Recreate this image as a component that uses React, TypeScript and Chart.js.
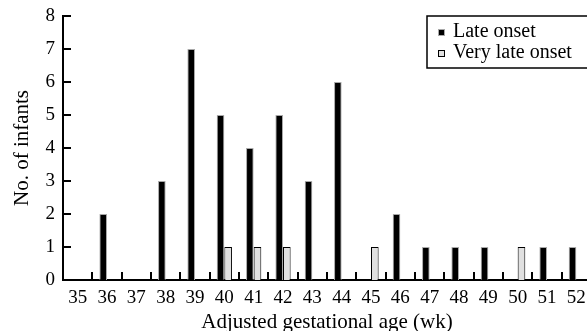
import React, { useEffect, useRef } from "react";
import { Chart, registerables } from "chart.js";

Chart.register(...registerables);

const categories = ["35", "36", "37", "38", "39", "40", "41", "42", "43", "44", "45", "46", "47", "48", "49", "50", "51", "52"];
const lateOnset = [0, 2, 0, 3, 7, 5, 4, 5, 3, 6, 0, 2, 1, 1, 1, 0, 1, 1];
const veryLateOnset = [0, 0, 0, 0, 0, 1, 1, 1, 0, 0, 1, 0, 0, 0, 0, 1, 0, 0];
const yTicks = [0, 1, 2, 3, 4, 5, 6, 7, 8];
const seriesLabels = ["Late onset", "Very late onset"];

const FONT = "'Liberation Serif', 'Times New Roman', serif";

const inwardTicks = {
  id: "inwardTicks",
  afterDraw(chart: any) {
    const { ctx, chartArea, scales } = chart;
    const x = scales.x;
    const y = scales.y;
    const step = x.getPixelForValue(1) - x.getPixelForValue(0);
    ctx.save();
    ctx.strokeStyle = "#000";
    ctx.lineWidth = 2;
    ctx.beginPath();
    for (let i = 0; i < categories.length; i++) {
      const px = Math.round(x.getPixelForValue(i) + step / 2);
      ctx.moveTo(px, chartArea.bottom);
      ctx.lineTo(px, chartArea.bottom - 8);
    }
    for (const v of yTicks) {
      if (v === 0) continue;
      const py = Math.round(y.getPixelForValue(v));
      ctx.moveTo(chartArea.left, py);
      ctx.lineTo(chartArea.left + 8, py);
    }
    ctx.stroke();
    ctx.restore();
  },
};

const boxLegend = {
  id: "boxLegend",
  afterDraw(chart: any) {
    const { ctx, chartArea } = chart;
    const left = chartArea.right - 164;
    const top = chartArea.top;
    const w = 180;
    const h = 52;
    ctx.save();
    ctx.fillStyle = "#fff";
    ctx.fillRect(left, top, w, h);
    ctx.strokeStyle = "#000";
    ctx.lineWidth = 1.5;
    ctx.strokeRect(left, top, w, h);
    ctx.font = `20px ${FONT}`;
    ctx.textBaseline = "middle";
    chart.data.datasets.forEach((ds: any, i: number) => {
      const cy = top + 16 + i * 21;
      ctx.fillStyle = ds.backgroundColor;
      ctx.fillRect(left + 11, cy - 3, 7, 7);
      ctx.strokeStyle = ds.borderColor;
      ctx.lineWidth = 1;
      ctx.strokeRect(left + 11.5, cy - 2.5, 6, 6);
      ctx.fillStyle = "#000";
      ctx.fillText(ds.label, left + 26, cy);
    });
    ctx.restore();
  },
};

export default function App() {
  const ref = useRef<HTMLCanvasElement>(null);
  useEffect(() => {
    if (!ref.current) return;
    const chart = new Chart(ref.current, {
      type: "bar",
      data: {
        labels: categories,
        datasets: [
          {
            label: seriesLabels[0],
            data: lateOnset,
            backgroundColor: "#000000",
            borderColor: "#a8a8a8",
            borderWidth: 1,
            categoryPercentage: 0.52,
            barPercentage: 1,
          },
          {
            label: seriesLabels[1],
            data: veryLateOnset,
            backgroundColor: "#e0e0e0",
            borderColor: "#000000",
            borderWidth: 1,
            categoryPercentage: 0.52,
            barPercentage: 1,
          },
        ],
      },
      options: {
        responsive: false,
        animation: false,
        devicePixelRatio: 1,
        layout: { padding: { top: 16, right: 9, bottom: 0, left: 0 } },
        plugins: {
          legend: { display: false },
          tooltip: { enabled: false },
        },
        scales: {
          x: {
            grid: { display: false, offset: true },
            border: { display: true, color: "#000", width: 2 },
            ticks: { color: "#000", font: { family: FONT, size: 19 }, padding: -1, maxRotation: 0, autoSkip: false },
            title: {
              display: true,
              text: "Adjusted gestational age (wk)",
              color: "#000",
              font: { family: FONT, size: 21 },
              padding: { top: 0, bottom: -4 },
            },
            afterFit: (s: any) => {
              s.height = 51;
            },
          },
          y: {
            min: 0,
            max: 8,
            afterBuildTicks: (s: any) => {
              s.ticks = yTicks.map((v) => ({ value: v }));
            },
            grid: { display: false },
            border: { display: true, color: "#000", width: 2 },
            ticks: { color: "#000", font: { family: FONT, size: 19 }, padding: 0 },
            title: {
              display: true,
              text: "No. of infants",
              color: "#000",
              font: { family: FONT, size: 21 },
              padding: { top: 10, bottom: 0 },
            },
            afterFit: (s: any) => {
              s.width = 63;
            },
          },
        },
      },
      plugins: [inwardTicks, boxLegend],
    });
    return () => chart.destroy();
  }, []);
  return (
    <div style={{ position: "fixed", left: 0, top: 0, width: 587, height: 331, overflow: "hidden", background: "#fff" }}>
      <canvas ref={ref} width={600} height={331} style={{ display: "block", width: 600, height: 331 }} />
    </div>
  );
}
